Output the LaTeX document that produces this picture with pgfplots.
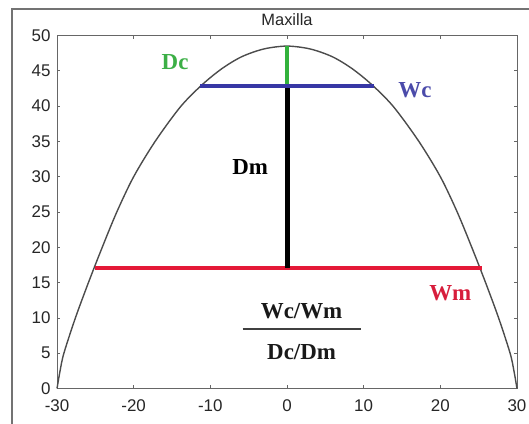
\documentclass[border=0pt]{standalone}
\usepackage{fontspec}
\setmainfont{Liberation Serif}
\newfontfamily\sansf{Liberation Sans}
\usepackage{pgfplots}
\pgfplotsset{compat=1.18}
\definecolor{dcgreen}{RGB}{50,178,60}
\definecolor{wcblue}{RGB}{55,55,165}
\definecolor{wmred}{RGB}{228,25,55}
\definecolor{dclab}{RGB}{60,175,70}
\definecolor{wclab}{RGB}{75,75,170}
\definecolor{wmlab}{RGB}{215,30,60}
\begin{document}
\begin{tikzpicture}
\path[use as bounding box] (0,0) rectangle (529bp,424bp);
\draw[black!55, line width=1.3bp] (12bp,0) -- (12bp,415bp) -- (529bp,415bp);
\begin{axis}[
  at={(57bp,35.5bp)}, anchor=south west,
  scale only axis, width=460bp, height=353bp,
  xmin=-30, xmax=30, ymin=0, ymax=50,
  xtick={-30,-20,...,30}, ytick={0,5,...,50},
  tick align=inside, major tick length=3bp,
  axis line style={black!60, line width=0.8bp},
  tick style={black!60, line width=0.8bp},
  ticklabel style={font=\sansf\fontsize{17}{17}\selectfont, text=black!85},
  xticklabel style={yshift=-8bp},
  yticklabel style={xshift=-3bp},
  /pgf/number format/assume math mode=true,
  title={Maxilla},
  title style={font=\sansf\fontsize{16.5}{16.5}\selectfont, text=black!85, at={(0.5,1)}, anchor=south, yshift=0bp},
  clip=false,
]
\addplot[black!70, line width=1.4bp, smooth, tension=0.5] coordinates {
(-30,0) (-29.6,2.5) (-29.1,5) (-27.6,10) (-25.9,15) (-24.1,20) (-22.2,25) (-20.0,30) (-17.2,35) (-13.9,39.9) (-11.1,43) (-8.5,45.3) (-5.9,47) (-3,48.1) (0,48.5)
(3,48.1) (5.9,47) (8.5,45.3) (11.1,43) (13.9,39.9) (17.2,35) (20.0,30) (22.2,25) (24.1,20) (25.9,15) (27.6,10) (29.1,5) (29.6,2.5) (30,0)
};
\addplot[wmred, line width=3.5bp] coordinates {(-25.1,17.1) (25.4,17.1)};
\addplot[black, line width=5bp] coordinates {(0,17.1) (0,42.85)};
\addplot[dcgreen, line width=4bp] coordinates {(0,42.85) (0,48.5)};
\addplot[wcblue, line width=3.5bp] coordinates {(-11.3,42.85) (11.3,42.85)};
\node[font=\bfseries\fontsize{23}{23}\selectfont, text=dclab] at (axis cs:-14.6,46.3) {Dc};
\node[font=\bfseries\fontsize{23}{23}\selectfont, text=wclab] at (axis cs:16.7,42.3) {Wc};
\node[font=\bfseries\fontsize{23}{23}\selectfont, text=black] at (axis cs:-4.8,31.4) {Dm};
\node[font=\bfseries\fontsize{23}{23}\selectfont, text=wmlab] at (axis cs:21.3,13.5) {Wm};
\node[font=\bfseries\fontsize{23}{23}\selectfont, text=black!90] at (axis cs:1.9,11.0) {Wc/Wm};
\draw[black!75, line width=1.6bp] (axis cs:-5.8,8.45) -- (axis cs:9.6,8.45);
\node[font=\bfseries\fontsize{23}{23}\selectfont, text=black!90] at (axis cs:1.9,5.1) {Dc/Dm};
\end{axis}
\end{tikzpicture}
\end{document}
